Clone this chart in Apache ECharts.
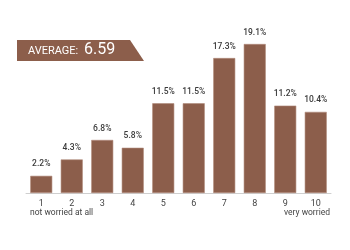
<!DOCTYPE html>
<html><head><meta charset="utf-8">
<script src="https://cdn.jsdelivr.net/npm/echarts@6/dist/echarts.min.js"></script>
<style>html,body{margin:0;padding:0;background:#fff}#c{width:350px;height:250px}</style>
</head><body><div id="c"></div>
<script>
const categories = ['1','2','3','4','5','6','7','8','9','10'];
const values = [2.2, 4.3, 6.8, 5.8, 11.5, 11.5, 17.3, 19.1, 11.2, 10.4];
const averageLabel = 'AVERAGE:';
const averageValue = '6.59';
const leftNote = 'not worried at all';
const rightNote = 'very worried';

const brown = '#8c5e4b';
const chart = echarts.init(document.getElementById('c'), null, {renderer: 'canvas'});
chart.setOption({
  animation: false,
  grid: {left: 26, right: 19, top: 44, bottom: 57},
  xAxis: {
    type: 'category', data: categories,
    axisLine: {lineStyle: {color: '#cfcfcf', width: 1}},
    axisTick: {show: false},
    axisLabel: {color: '#444', fontSize: 9, fontFamily: 'Roboto', margin: 6}
  },
  yAxis: {type: 'value', min: 0, max: 19.1, show: false, splitLine: {show: false}},
  series: [{
    type: 'bar', data: values, barWidth: 22,
    itemStyle: {color: brown, borderColor: '#b08a7a', borderWidth: 0.6},
    label: {show: true, position: 'top', distance: 7, color: '#3a3a3a', fontSize: 8.5,
      fontFamily: 'Roboto', fontWeight: 500, formatter: p => p.value.toFixed(1) + '%'}
  }],
  graphic: [
    {type: 'polygon', shape: {points: [[17,40],[130,40],[144,61],[17,61]]}, style: {fill: brown}},
    {type: 'text', left: 28, top: 46, style: {text: averageLabel, fill: '#fff', font: '11px Roboto'}},
    {type: 'text', left: 84, top: 42, style: {text: averageValue, fill: '#fff', font: '16px Roboto'}},
    {type: 'text', left: 30, top: 208, style: {text: leftNote, fill: '#444', font: '8.5px Roboto'}},
    {type: 'text', right: 20, top: 208, style: {text: rightNote, fill: '#444', font: '8.5px Roboto'}}
  ]
});
</script></body></html>
